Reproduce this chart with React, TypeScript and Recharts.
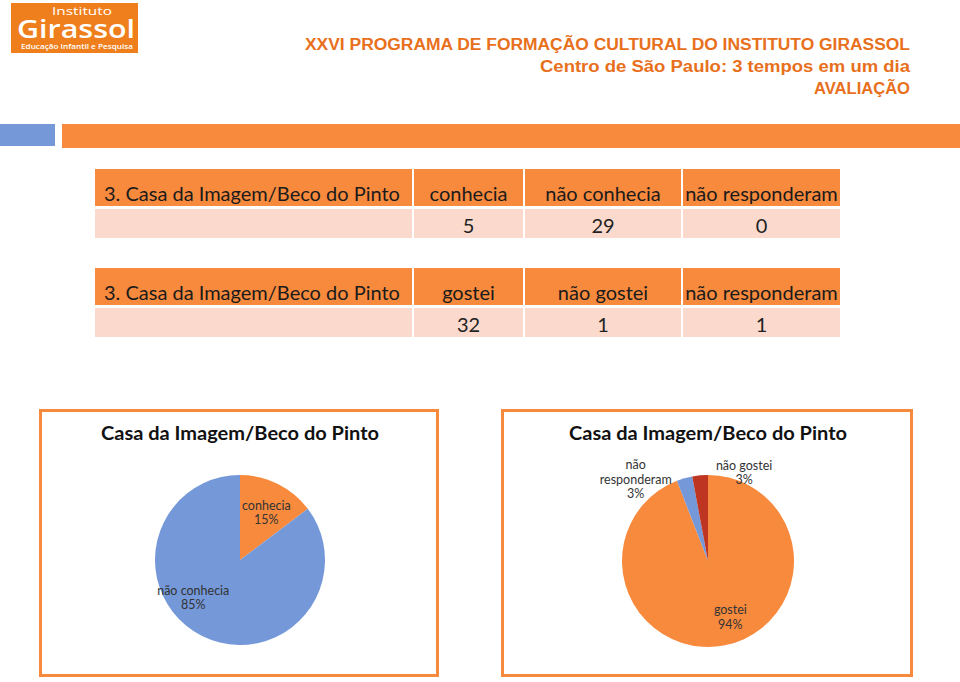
import React from 'react';
import { PieChart, Pie, Cell } from 'recharts';

// ---------- data ----------
const headerLines = [
  'XXVI PROGRAMA DE FORMAÇÃO CULTURAL DO INSTITUTO GIRASSOL',
  'Centro de São Paulo: 3 tempos em um dia',
  'AVALIAÇÃO',
];
const tableTitle = '3. Casa da Imagem/Beco do Pinto';
const table1Columns = ['conhecia', 'não conhecia', 'não responderam'];
const table1Values = [5, 29, 0];
const table2Columns = ['gostei', 'não gostei', 'não responderam'];
const table2Values = [32, 1, 1];

const chartTitle = 'Casa da Imagem/Beco do Pinto';
const pie1Names = ['conhecia', 'não conhecia', 'não responderam'];
const pie1Values = [5, 29, 0];
const pie2Names = ['gostei', 'não responderam', 'não gostei'];
const pie2Values = [32, 1, 1];

// ---------- styles ----------
const ORANGE = '#F88A3D';
const BLUE = '#7498D8';
const RED = '#BE3521';
const HEAD_COLOR = '#E8701C';
const LOGO = '#EF7F1C';
const TABLE_HEAD = '#F88A3D';
const TABLE_ROW = '#FBDACD';

const pieColors = [ORANGE, BLUE, RED];
// label anchor offsets, as fractions of outer radius from centre
const pie1LabelPos = [[0.31, -0.56], [-0.55, 0.44], [0, 0]];
const pie2LabelPos = [[0.26, 0.65], [-0.84, -0.95], [0.42, -1.03]];

const colEdges = [[95, 412], [414, 523], [525, 681], [683, 840]];

const tableFont = 'Lato, "Open Sans", sans-serif';
const labelFont = 'Lato, "DejaVu Sans", sans-serif';
const noMargin = { top: 0, right: 0, bottom: 0, left: 0 };

function Table({ top, columns, values, hBase, dBase }: any) {
  const headH = 37;
  const rowTop = top + headH + 3;
  const rowH = 29;
  return (
    <g>
      {colEdges.map((c, i) => (
        <rect key={'h' + i} x={c[0]} y={top} width={c[1] - c[0]} height={headH} fill={TABLE_HEAD} />
      ))}
      {colEdges.map((c, i) => (
        <rect key={'d' + i} x={c[0]} y={rowTop} width={c[1] - c[0]} height={rowH} fill={TABLE_ROW} />
      ))}
      <text x={104} y={top + hBase} fontFamily={tableFont} fontSize={20} fill="#1b1b1b">
        {tableTitle}
      </text>
      {columns.map((t: string, i: number) => {
        const c = colEdges[i + 1];
        return (
          <text key={'ht' + i} x={(c[0] + c[1]) / 2} y={top + hBase} textAnchor="middle"
            fontFamily={tableFont} fontSize={20} fill="#1b1b1b">{t}</text>
        );
      })}
      {values.map((v: number, i: number) => {
        const c = colEdges[i + 1];
        return (
          <text key={'dt' + i} x={(c[0] + c[1]) / 2} y={top + dBase} textAnchor="middle"
            fontFamily={tableFont} fontSize={20} fill="#222">{v}</text>
        );
      })}
    </g>
  );
}

function makeLabel(pos: number[][]) {
  return (props: any) => {
    const { cx, cy, outerRadius, percent, index, name, value } = props;
    if (!value) return null;
    const p = pos[index] || [0, 0];
    const x = cx + p[0] * outerRadius;
    const y = cy + p[1] * outerRadius;
    const lines: string[] = [];
    if (name.length > 12) {
      const k = name.indexOf(' ');
      lines.push(name.slice(0, k), name.slice(k + 1));
    } else {
      lines.push(name);
    }
    lines.push(Math.round(percent * 100) + '%');
    const lh = 14.5;
    const y0 = y - ((lines.length - 1) * lh) / 2;
    return (
      <text x={x} y={y0} textAnchor="middle" fontFamily={labelFont} fontSize={12.5} fill="#333">
        {lines.map((l, i) => (
          <tspan key={i} x={x} y={y0 + i * lh} dominantBaseline="central">{l}</tspan>
        ))}
      </text>
    );
  };
}

const pie1Data = pie1Names.map((n, i) => ({ name: n, value: pie1Values[i] }));
const pie2Data = pie2Names.map((n, i) => ({ name: n, value: pie2Values[i] }));

export default function App() {
  return (
    <div style={{ position: 'absolute', left: 0, top: 0, width: 960, height: 682, background: '#fff', overflow: 'hidden' }}>
      <svg width={960} height={682} style={{ position: 'absolute', left: 0, top: 0 }}>
        {/* logo */}
        <rect x={11} y={3} width={127} height={50} fill={LOGO} />
        <text x={52} y={15} fontFamily='"Open Sans", Lato, sans-serif' fontSize={11.5} fill="#fff" textLength={60} lengthAdjust="spacingAndGlyphs">Instituto</text>
        <text x={17} y={38} fontFamily='"Open Sans", Lato, sans-serif' fontWeight={600} fontSize={26} fill="#fff" textLength={118} lengthAdjust="spacingAndGlyphs">Girassol</text>
        <text x={21} y={49} fontFamily='"Open Sans", Lato, sans-serif' fontWeight={600} fontSize={7.5} fill="#fff" textLength={112} lengthAdjust="spacingAndGlyphs">Educação Infantil e Pesquisa</text>

        {/* heading */}
        <text x={910} y={50} textAnchor="end" fontFamily='"Liberation Sans", Arial, sans-serif' fontWeight="bold" fontSize={16} fill={HEAD_COLOR} textLength={605} lengthAdjust="spacingAndGlyphs">{headerLines[0]}</text>
        <text x={910} y={72} textAnchor="end" fontFamily='"Liberation Sans", Arial, sans-serif' fontWeight="bold" fontSize={16} fill={HEAD_COLOR} textLength={370} lengthAdjust="spacingAndGlyphs">{headerLines[1]}</text>
        <text x={910} y={94} textAnchor="end" fontFamily='"Liberation Sans", Arial, sans-serif' fontWeight="bold" fontSize={16} fill={HEAD_COLOR} textLength={96} lengthAdjust="spacingAndGlyphs">{headerLines[2]}</text>

        {/* bars */}
        <rect x={0} y={124} width={55} height={22} fill={BLUE} />
        <rect x={62} y={124} width={898} height={24} fill={ORANGE} />

        {/* tables */}
        <Table top={169} columns={table1Columns} values={table1Values} hBase={32} dBase={64} />
        <Table top={268} columns={table2Columns} values={table2Values} hBase={32} dBase={64} />

        {/* chart boxes */}
        <rect x={40.5} y={410.5} width={397} height={265} fill="none" stroke={ORANGE} strokeWidth={3} />
        <rect x={502.5} y={410.5} width={409} height={265} fill="none" stroke={ORANGE} strokeWidth={3} />
        <text x={240} y={440} textAnchor="middle" fontFamily='Lato, "DejaVu Sans", sans-serif' fontWeight="bold" fontSize={18.5} fill="#111" textLength={278} lengthAdjust="spacingAndGlyphs">{chartTitle}</text>
        <text x={708} y={440} textAnchor="middle" fontFamily='Lato, "DejaVu Sans", sans-serif' fontWeight="bold" fontSize={18.5} fill="#111" textLength={278} lengthAdjust="spacingAndGlyphs">{chartTitle}</text>
      </svg>

      <div style={{ position: 'absolute', left: 39, top: 409, width: 401, height: 268 }}>
        <PieChart width={401} height={268} margin={noMargin}>
          <Pie data={pie1Data} dataKey="value" nameKey="name" cx={201} cy={151} outerRadius={85}
            startAngle={90} endAngle={-270} isAnimationActive={false} stroke="none"
            labelLine={false} label={makeLabel(pie1LabelPos)}>
            {pie1Data.map((d, i) => <Cell key={i} fill={pieColors[i]} />)}
          </Pie>
        </PieChart>
      </div>
      <div style={{ position: 'absolute', left: 501, top: 409, width: 413, height: 268 }}>
        <PieChart width={413} height={268} margin={noMargin}>
          <Pie data={pie2Data} dataKey="value" nameKey="name" cx={207} cy={152} outerRadius={86}
            startAngle={90} endAngle={-270} isAnimationActive={false} stroke="none"
            labelLine={false} label={makeLabel(pie2LabelPos)}>
            {pie2Data.map((d, i) => <Cell key={i} fill={pieColors[i]} />)}
          </Pie>
        </PieChart>
      </div>
    </div>
  );
}
